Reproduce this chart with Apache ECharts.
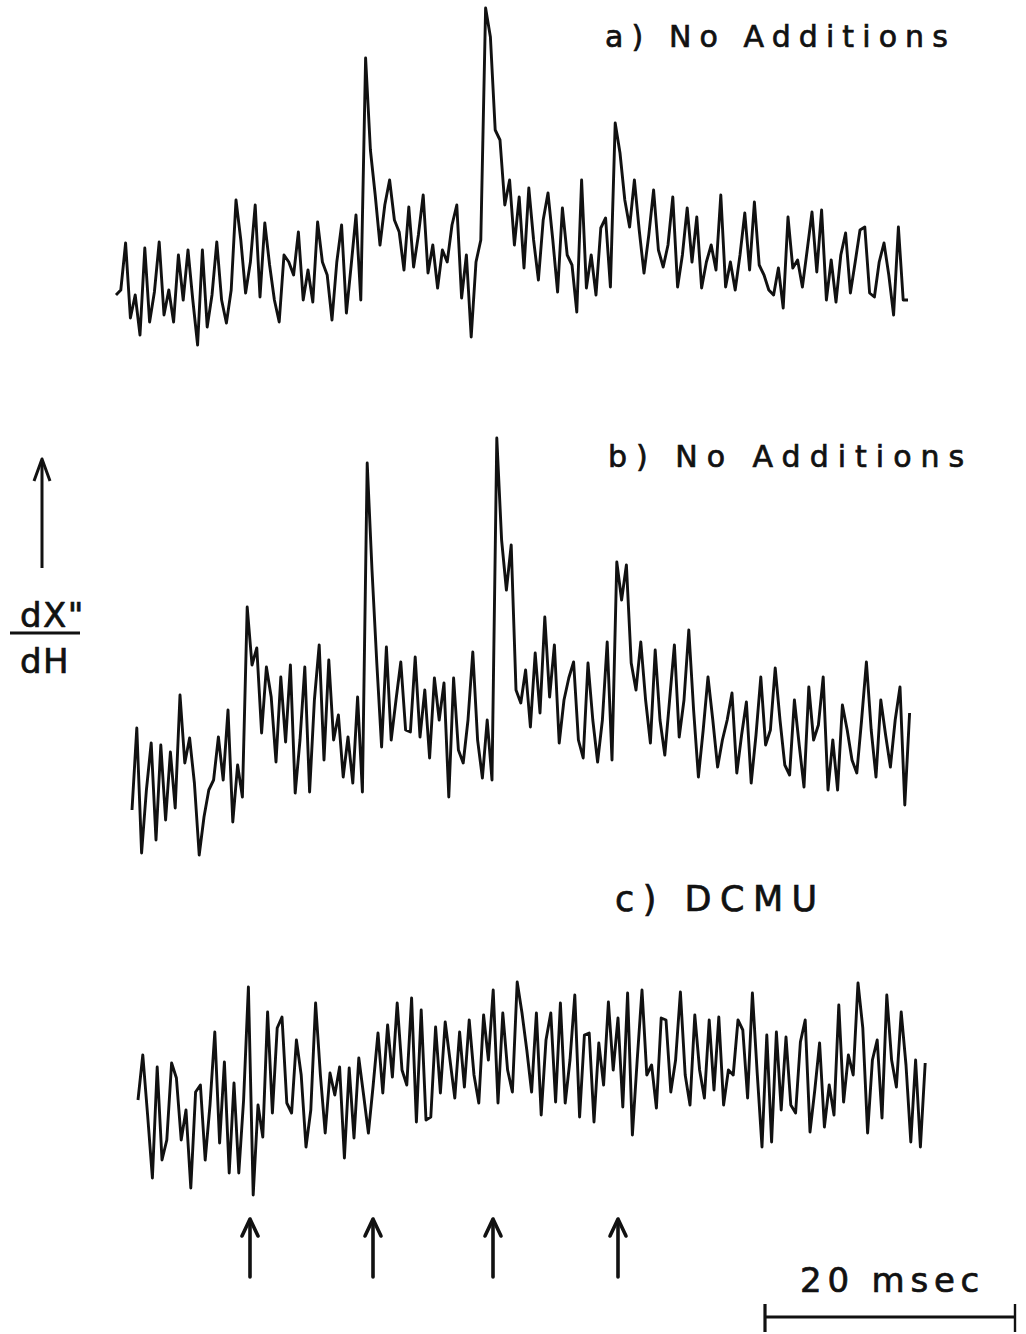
<!DOCTYPE html>
<html>
<head>
<meta charset="utf-8">
<script src="https://cdn.jsdelivr.net/npm/echarts@6/dist/echarts.min.js"></script>
<style>
html,body{margin:0;padding:0;background:#ffffff;}
#chart{width:1026px;height:1334px;}
</style>
</head>
<body>
<div id="chart"></div>
<script>
// ---- data (arbitrary signal units, relative to each trace's baseline) ----
const traceA = [
-5,0,47,-28,-5,-45,42,-32,-2,48,
-25,0,-32,35,-10,40,-10,-55,40,-37,
-5,48,-10,-33,0,90,50,-3,28,85,
-7,67,25,-10,-32,35,28,15,58,-10,
20,-12,68,28,15,-30,28,65,-23,25,
75,-10,232,140,95,45,85,110,70,58,
20,83,23,55,95,17,45,2,40,28,
65,85,-8,35,-47,28,50,282,253,160,
150,85,110,45,93,22,102,50,10,70,
97,50,-2,82,35,25,-22,110,2,35,
-5,62,72,3,167,137,90,63,110,60,
17,55,100,40,23,45,93,3,35,82,
28,73,2,28,45,20,95,3,28,0,
35,77,20,88,25,15,0,-5,22,-18,
73,22,30,3,40,78,18,80,-10,30,
-12,35,57,-3,28,60,63,-3,-7,28,
47,15,-25,63,-10,-10];

const traceB = [
-30,52,-73,-10,37,-60,35,-40,28,-28,
85,17,42,-3,-75,-37,-10,0,43,0,
70,-42,15,-17,173,115,132,47,113,83,
18,103,38,115,-13,40,113,-12,80,135,
20,120,40,65,3,43,-3,83,-12,317,
210,117,33,133,40,80,118,50,48,123,
43,90,22,102,60,97,-17,102,30,17,
60,128,40,2,60,0,342,240,190,235,
90,77,110,53,127,67,163,83,135,37,
80,102,118,40,22,117,60,18,60,138,
20,218,180,215,117,90,138,80,37,130,
60,25,80,135,43,80,150,70,3,50,
103,60,13,40,60,87,7,45,78,-3,
45,103,35,50,112,60,15,5,80,35,
-7,93,40,55,103,-10,40,-10,75,50,
20,7,60,118,50,3,80,45,13,60,
93,-25,67];

const traceC = [
-10,35,-25,-88,23,-70,-50,27,12,-50,
-20,-98,-2,5,-70,-15,58,-53,28,-83,
7,-83,-10,103,-105,-15,-47,78,-23,62,
73,-13,-23,50,15,-57,-20,87,15,-43,
17,-5,23,-68,22,-48,32,-5,-43,5,
57,-3,65,13,87,20,5,92,-32,80,
-30,-27,63,-3,68,30,-8,58,3,70,
15,-13,75,30,100,-13,77,20,-2,108,
77,40,-2,77,-25,50,77,-12,87,-13,
30,95,-27,55,57,-32,47,5,88,20,
72,-17,97,-45,30,100,15,25,-18,72,
70,-2,30,98,15,-15,75,20,-8,70,
0,73,-15,20,15,70,60,-8,97,17,
-57,55,-52,58,-20,53,-15,-23,48,70,
-42,0,47,-37,5,-25,85,-12,35,15,
107,62,-43,30,50,-28,95,30,3,78,
25,-52,30,-57,27];

const traceStartMs = [9.28, 10.56, 11.04];   // recording start of traces a, b, c
const sampleMs = 0.384;                      // sample spacing
const flashTimesMs = [20.0, 29.84, 39.44, 49.44];
const scaleBarStartMs = [61.2];
const scaleBarLengthMs = [20];
const panelLabels = ['a) No Additions', 'b) No Additions', 'c) DCMU'];
const scaleBarLabel = ['20 msec'];
const yLabelTop = ['dX"'];
const yLabelBottom = ['dH'];

// ---- chart ----
const X_MAX = 82.08;
const INK = '#111111';
const FONT = "'DejaVu Sans', sans-serif";

function toSeries(values, start) {
  return values.map((v, i) => [+(start + i * sampleMs).toFixed(3), v]);
}

const chart = echarts.init(document.getElementById('chart'), null, {renderer: 'svg', width: 1026, height: 1334});

const xAxes = [0,1,2,3].map(k => ({type:'value', gridIndex:k, min:0, max:X_MAX, show:false}));
const yAxes = [
  {type:'value', gridIndex:0, min:-70, max:290, show:false},
  {type:'value', gridIndex:1, min:-100, max:360, show:false},
  {type:'value', gridIndex:2, min:-130, max:130, show:false},
  {type:'value', gridIndex:3, min:0, max:134, inverse:true, show:false}
];

const traceLine = {color: INK, width: 2.9, join: 'round'};
const textStroke = {stroke: INK, lineWidth: 0.7};

const option = {
  animation: false,
  backgroundColor: '#ffffff',
  grid: [
    {left:0, right:0, top:0, height:360},
    {left:0, right:0, top:420, height:460},
    {left:0, right:0, top:960, height:260},
    {left:0, right:0, top:1200, height:134}
  ],
  xAxis: xAxes,
  yAxis: yAxes,
  series: [
    {type:'line', name:'a', xAxisIndex:0, yAxisIndex:0, data: toSeries(traceA, traceStartMs[0]),
     showSymbol:false, silent:true, lineStyle: traceLine},
    {type:'line', name:'b', xAxisIndex:1, yAxisIndex:1, data: toSeries(traceB, traceStartMs[1]),
     showSymbol:false, silent:true, lineStyle: traceLine},
    {type:'line', name:'c', xAxisIndex:2, yAxisIndex:2, data: toSeries(traceC, traceStartMs[2]),
     showSymbol:false, silent:true, lineStyle: traceLine},
    {type:'custom', name:'flashes', xAxisIndex:3, yAxisIndex:3, silent:true,
     data: flashTimesMs.map(t => [t, 0]),
     encode: {x:0, y:1},
     renderItem: function (params, api) {
       const t = api.value(0);
       const top = api.coord([t, 19]);
       const bot = api.coord([t, 77]);
       return {type:'group', children:[
         {type:'line', shape:{x1:top[0], y1:top[1]+1, x2:bot[0], y2:bot[1]},
          style:{stroke:INK, lineWidth:3.6, lineCap:'round'}},
         {type:'polyline', shape:{points:[[top[0]-8, top[1]+17],[top[0], top[1]],[top[0]+8, top[1]+17]]},
          style:{stroke:INK, lineWidth:3.6, fill:null, lineJoin:'round', lineCap:'round'}}
       ]};
     }},
    {type:'custom', name:'scalebar', xAxisIndex:3, yAxisIndex:3, silent:true,
     data: [[scaleBarStartMs[0], scaleBarStartMs[0] + scaleBarLengthMs[0]]],
     encode: {x:[0,1]},
     renderItem: function (params, api) {
       const a = api.coord([api.value(0), 117]);
       const b = api.coord([api.value(1), 117]);
       const ta = api.coord([api.value(0), 104]);
       const tb = api.coord([api.value(0), 132]);
       const tc = api.coord([api.value(1), 104]);
       const td = api.coord([api.value(1), 132]);
       return {type:'group', children:[
         {type:'line', shape:{x1:a[0], y1:a[1], x2:b[0], y2:b[1]}, style:{stroke:INK, lineWidth:2.8}},
         {type:'line', shape:{x1:ta[0], y1:ta[1], x2:tb[0], y2:tb[1]}, style:{stroke:INK, lineWidth:3.2}},
         {type:'line', shape:{x1:tc[0], y1:tc[1], x2:td[0], y2:td[1]}, style:{stroke:INK, lineWidth:2.4}}
       ]};
     }}
  ],
  graphic: [
    {type:'text', x:605, y:36, silent:true,
     style:Object.assign({text:panelLabels[0], font:'30px ' + FONT, fill:INK, align:'left', verticalAlign:'middle'}, textStroke)},
    {type:'text', x:608, y:456, silent:true,
     style:Object.assign({text:panelLabels[1], font:'30px ' + FONT, fill:INK, align:'left', verticalAlign:'middle'}, textStroke)},
    {type:'text', x:615, y:899, silent:true,
     style:Object.assign({text:panelLabels[2], font:'35px ' + FONT, fill:INK, align:'left', verticalAlign:'middle'}, textStroke)},
    {type:'text', x:800, y:1280, silent:true,
     style:Object.assign({text:scaleBarLabel[0], font:'34px ' + FONT, fill:INK, align:'left', verticalAlign:'middle'}, textStroke)},
    {type:'text', x:20, y:615, silent:true,
     style:Object.assign({text:yLabelTop[0], font:'34px ' + FONT, fill:INK, align:'left', verticalAlign:'middle'}, textStroke)},
    {type:'text', x:20, y:661, silent:true,
     style:Object.assign({text:yLabelBottom[0], font:'34px ' + FONT, fill:INK, align:'left', verticalAlign:'middle'}, textStroke)},
    {type:'line', silent:true, shape:{x1:10, y1:633, x2:80, y2:633}, style:{stroke:INK, lineWidth:2.8}},
    {type:'line', silent:true, shape:{x1:42, y1:460, x2:42, y2:568}, style:{stroke:INK, lineWidth:3}},
    {type:'polyline', silent:true, shape:{points:[[34,481],[42,459],[50,481]]},
     style:{stroke:INK, lineWidth:3, fill:null, lineJoin:'round'}}
  ]
};

chart.setOption(option);

// wide lettering-guide spacing of the original labels
const spacing = {};
spacing[panelLabels[0]] = 8.1;
spacing[panelLabels[1]] = 9;
spacing[panelLabels[2]] = 8.5;
spacing[scaleBarLabel[0]] = 5.8;
spacing[yLabelTop[0]] = 1.5;
spacing[yLabelBottom[0]] = 1.5;
function applySpacing() {
  document.querySelectorAll('#chart svg text').forEach(t => {
    const s = spacing[t.textContent];
    if (s != null) t.setAttribute('letter-spacing', s + 'px');
  });
}
chart.on('finished', applySpacing);
applySpacing();
setTimeout(applySpacing, 50);
</script>
</body>
</html>
